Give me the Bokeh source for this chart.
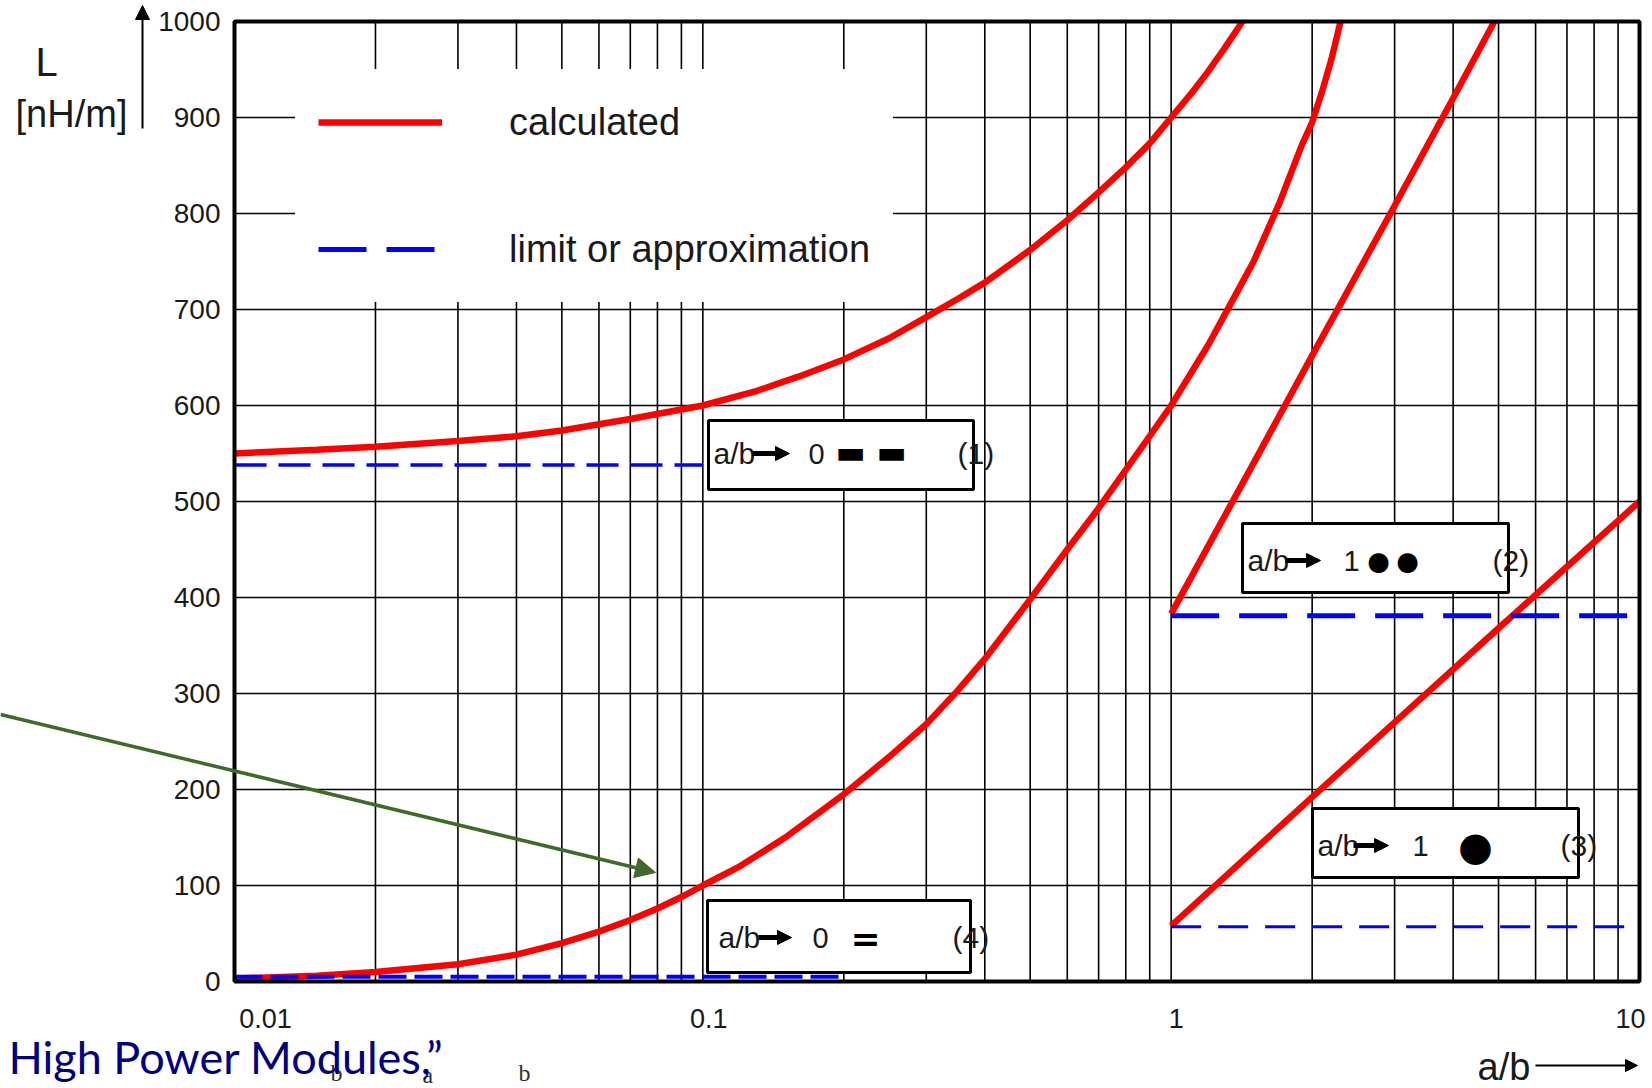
from bokeh.plotting import figure
from bokeh.models import (Range1d, BoxAnnotation, Label, Arrow, NormalHead,
                          ColumnDataSource, Legend, LegendItem)
from bokeh.core.properties import value
from bokeh.embed import file_html
from bokeh.resources import INLINE

# ---------------- data ----------------
# (1) calculated, a/b -> 0 with "- -" limit
calc1_x = [0.01, 0.015, 0.02, 0.03, 0.04, 0.05, 0.07, 0.1, 0.13, 0.16, 0.2, 0.25, 0.3, 0.35,
           0.4, 0.5, 0.6, 0.7, 0.8, 0.9, 1.0, 1.1, 1.2, 1.3, 1.42]
calc1_y = [550, 554, 557, 563, 568, 574, 586, 600, 615, 630, 648, 670, 692, 711,
           728, 762, 793, 822, 848, 873, 900, 924, 948, 972, 1000]
# (4) calculated, a/b -> 0 with "=" limit
calc4_x = [0.01, 0.015, 0.02, 0.03, 0.04, 0.05, 0.06, 0.07, 0.08, 0.09, 0.1, 0.12, 0.15, 0.2,
           0.25, 0.3, 0.35, 0.4, 0.5, 0.6, 0.7, 0.8, 0.9, 1.0, 1.2, 1.4, 1.5, 1.7, 1.9, 2.0,
           2.1, 2.2, 2.3]
calc4_y = [3, 6, 10, 18, 28, 40, 52, 64, 76, 88, 100, 120, 150, 195,
           234, 268, 303, 336, 398, 450, 493, 533, 568, 600, 663, 723, 750, 810, 871, 895,
           927, 961, 1000]
# (2) calculated, two round conductors
calc2_x = [1.0, 1.5, 2.0, 3.0, 4.0, 4.9]
calc2_y = [383, 540, 652, 808, 920, 1000]
# (3) calculated, coaxial
calc3_x = [1.0, 2.0, 3.0, 5.0, 7.0, 10.0]
calc3_y = [58, 192, 270, 368, 432, 500]

# limits / approximations (blue dashed)
lim1_x = [0.01, 0.1]
lim1_y = [538, 538]
lim4_x = [0.01, 0.2]
lim4_y = [5, 5]
lim2_x = [1.0, 10.0]
lim2_y = [381, 381]
lim3_x = [1.0, 10.0]
lim3_y = [57, 57]

y_ticks = [0, 100, 200, 300, 400, 500, 600, 700, 800, 900, 1000]
y_tick_labels = [str(v) for v in y_ticks]
x_ticks = [0.01, 0.1, 1, 10]
x_tick_labels = ["0.01", "0.1", "1", "10"]
x_tick_shift = [31, 6, 5, -9]
x_grid = [m * 10.0 ** e for e in (-2, -1, 0) for m in range(1, 10)] + [10.0]
X_MIN, X_MAX, Y_MIN, Y_MAX = 0.01, 10.0, 0, 1000

# ---------------- layout ----------------
FONT = "Liberation Sans"
W, H = 1652, 1088
FL, FT, FR, FB = 234, 21, 1639, 981     # plot-area edges in page pixels


def px2x(px):
    return 10 ** (-2 + 3 * (px - FL) / (FR - FL))


def px2y(py):
    return 1000 * (FB - py) / (FB - FT)


p = figure(width=W, height=H, x_axis_type="log",
           x_range=Range1d(px2x(0), px2x(W)), y_range=Range1d(px2y(H), px2y(0)),
           x_axis_location=None, y_axis_location=None,
           output_backend="svg", toolbar_location=None,
           min_border=0)
p.background_fill_color = "white"
p.border_fill_color = "white"
p.outline_line_color = None
p.xgrid.visible = False
p.ygrid.visible = False

# grid of the plot area
p.segment(x0=x_grid, y0=[Y_MIN] * len(x_grid), x1=x_grid, y1=[Y_MAX] * len(x_grid),
          line_color="black", line_width=1.6)
p.segment(x0=[X_MIN] * len(y_ticks), y0=y_ticks, x1=[X_MAX] * len(y_ticks), y1=y_ticks,
          line_color="black", line_width=1.6)

RED = "#ff0000"
BLUE = "#0000ff"
r_c1 = p.line(calc1_x, calc1_y, line_color=RED, line_width=6.5)
p.line(calc4_x, calc4_y, line_color=RED, line_width=6.5)
p.line(calc2_x, calc2_y, line_color=RED, line_width=6.5)
p.line(calc3_x, calc3_y, line_color=RED, line_width=6.5)

p.line(lim1_x, lim1_y, line_color=BLUE, line_width=3.5, line_dash="32 12")
p.line(lim4_x, lim4_y, line_color=BLUE, line_width=4, line_dash="28 8")
r_l2 = p.line(lim2_x, lim2_y, line_color=BLUE, line_width=5, line_dash="48 20")
p.line(lim3_x, lim3_y, line_color=BLUE, line_width=3, line_dash="30 17")

# frame of the plot area
p.add_layout(BoxAnnotation(left=X_MIN, right=X_MAX, bottom=Y_MIN, top=Y_MAX,
                           fill_alpha=0.0, line_color="black", line_width=4, line_alpha=1.0))

# tick labels
p.text(x=[X_MIN] * len(y_ticks), y=y_ticks, text=y_tick_labels, x_offset=-14,
       text_font=value(FONT), text_font_size="28px", text_color="#1a1a1a",
       text_align="right", text_baseline="middle")
xsrc = ColumnDataSource(dict(x=x_ticks, y=[px2y(1018)] * len(x_ticks),
                             text=x_tick_labels, xoff=x_tick_shift))
p.text(x="x", y="y", text="text", x_offset="xoff", source=xsrc,
       text_font=value(FONT), text_font_size="27px", text_color="#1a1a1a",
       text_align="center", text_baseline="middle")

legend = Legend(items=[LegendItem(label="calculated", renderers=[r_c1]),
                       LegendItem(label="limit or approximation", renderers=[r_l2])],
                location=(295, H - 302))
legend.background_fill_color = "white"
legend.background_fill_alpha = 1.0
legend.border_line_color = "white"
legend.border_line_width = 1
legend.label_text_font = FONT
legend.label_text_font_size = "38px"
legend.label_text_color = "#1a1a1a"
legend.glyph_width = 124
legend.glyph_height = 60
legend.label_height = 60
legend.label_standoff = 67
legend.spacing = 67
legend.padding = 22
legend.margin = 0
p.add_layout(legend)

# annotation boxes
boxes = [(708, 973, 420, 489), (1242, 1508, 523, 592), (1312, 1578, 808, 877), (707, 970, 900, 972)]
for l, r, t, b in boxes:
    p.add_layout(BoxAnnotation(left=px2x(l), right=px2x(r), top=px2y(t), bottom=px2y(b),
                               fill_color="white", fill_alpha=1.0,
                               line_color="black", line_width=3, line_alpha=1.0))


def lab(px, py, text, size, font=FONT, align="left", color="#1a1a1a", style="normal",
        baseline="middle"):
    p.add_layout(Label(x=px2x(px), y=px2y(py), text=text, text_font=font,
                       text_font_size=size, text_color=color, text_align=align,
                       text_baseline=baseline, text_font_style=style))


def arrow(x0, y0, x1, y1, width, head, color="black"):
    p.add_layout(Arrow(x_start=px2x(x0), y_start=px2y(y0), x_end=px2x(x1), y_end=px2y(y1),
                       line_color=color, line_width=width,
                       end=NormalHead(size=head, fill_color=color, line_color=color)))


SYM = "DejaVu Sans"
# box (1)
lab(713, 453, "a/b", "30px")
arrow(752, 453, 789, 453, 5, 14)
lab(808, 453, "0", "29px")
lab(850, 451, "\u25ac", "32px", font=SYM, align="center", color="black")
lab(891, 451, "\u25ac", "32px", font=SYM, align="center", color="black")
lab(957, 453, "(1)", "30px")
# box (2)
lab(1247, 560, "a/b", "30px")
arrow(1285, 560, 1320, 560, 5, 14)
lab(1343, 560, "1", "29px")
lab(1378, 560, "\u25cf", "26px", font=SYM, align="center", color="black")
lab(1407, 560, "\u25cf", "26px", font=SYM, align="center", color="black")
lab(1492, 560, "(2)", "30px")
# box (3)
lab(1317, 845, "a/b", "30px")
arrow(1353, 845, 1388, 845, 5, 14)
lab(1412, 845, "1", "29px")
lab(1475, 845, "\u25cf", "40px", font=SYM, align="center", color="black")
lab(1560, 845, "(3)", "30px")
# box (4)
lab(718, 937, "a/b", "30px")
arrow(758, 937, 791, 937, 5, 14)
lab(812, 937, "0", "29px")
lab(865, 938, "=", "36px", font=SYM, align="center", color="black", style="bold")
lab(952, 937, "(4)", "30px")

# axis titles and arrows
lab(46, 61, "L", "40px", align="center")
lab(71, 113, "[nH/m]", "38px", align="center")
arrow(142, 128, 142, 5, 2, 14)
lab(1477, 1066, "a/b", "38px")
arrow(1535, 1065, 1637, 1065, 2, 12)

# pointer arrow and slide text
arrow(0, 714, 655, 872, 3.5, 20, color="#3f6a2c")
lab(330, 1072, "b", "24px", font="Liberation Serif", color="#333333")
lab(422, 1074, "a", "24px", font="Liberation Serif", color="#333333")
lab(518, 1072, "b", "24px", font="Liberation Serif", color="#333333")
lab(8, 1056, "High Power Modules,\u201d", "45px", font="Lato", color="#000080")

open("out.html", "w").write(file_html(p, INLINE))
